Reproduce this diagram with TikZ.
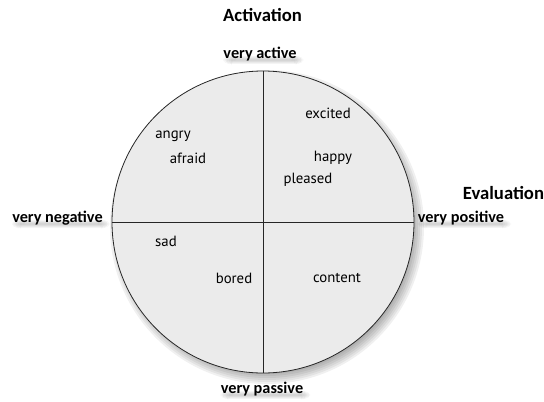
\documentclass[tikz,border=0pt]{standalone}
\usepackage{fontspec}
\setmainfont{Carlito}
\newfontfamily\moodfont{PT Sans}
\usetikzlibrary{backgrounds}
\begin{document}
\begin{tikzpicture}[x=0.75pt, y=-0.75pt,
  circwheel/.style = {circle, draw=black!85, fill=black!8, line width=0.6pt,
    minimum size=226.5pt, inner sep=0pt},
  circaxis/.style = {black!85, line width=0.6pt},
  circtitle/.style = {font=\bfseries\fontsize{14}{16}\selectfont, inner sep=0pt},
  circpole/.style = {font=\bfseries\fontsize{12.2}{14}\selectfont, inner sep=0pt},
  circmood/.style = {font=\moodfont\fontsize{11.1}{13}\selectfont, inner sep=0pt}
]
  \useasboundingbox (0,0) rectangle (544,401);
  % shadow of the wheel
  \foreach \r in {145,147,...,158}
    \fill[black, opacity=0.06] (267,227) circle (\r);
  % wheel and axes
  \node[circwheel] (wheel) at (263,222) {};
  \draw[circaxis] (wheel.north) -- (wheel.south);
  \draw[circaxis] (wheel.west) -- (wheel.east);
  % axis names
  \node[circtitle] (activation) at (262.5,15) {Activation};
  \node[circtitle] (evaluation) at (503.5,193) {Evaluation};
  % pole labels
  \node[circpole] (veryactive) at (260,54) {very active};
  \node[circpole] (verynegative) at (57.5,218) {very negative};
  \node[circpole] (verypositive) at (461,218) {very positive};
  \node[circpole] (verypassive) at (262,389) {very passive};
  % soft shadows under the pole labels
  \begin{scope}[on background layer]
    \foreach \n in {veryactive, verynegative, verypositive, verypassive}
      \foreach \d in {0,1,...,6}
        \fill[black, opacity=0.03, rounded corners=4pt]
          ([xshift=\d*1pt, yshift=-2pt+\d*0.5pt]\n.south west)
          rectangle ([xshift=5pt-\d*1pt, yshift=-7pt-\d*0.5pt]\n.north east);
  \end{scope}
  % moods
  \foreach \n/\x/\y in {excited/328/113, angry/173/136, afraid/188/158,
      happy/333/158, pleased/308/180, sad/166/241, bored/234/278,
      content/337/278}
    \node[circmood] (\n) at (\x,\y) {\n};
\end{tikzpicture}
\end{document}
